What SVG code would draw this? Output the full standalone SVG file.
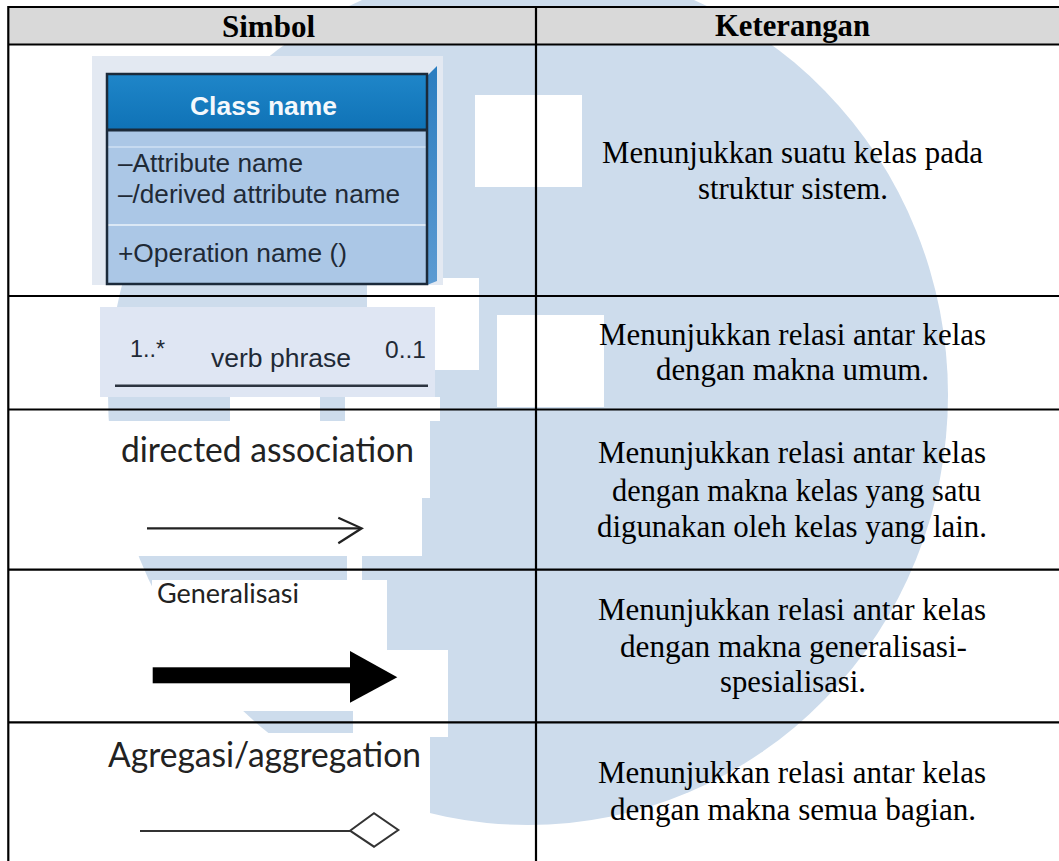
<svg xmlns="http://www.w3.org/2000/svg" width="1059" height="861" viewBox="0 0 1059 861">
<defs>
<style>
.grid{stroke:#000;stroke-width:2.2;fill:none}
.hd{font-family:"Liberation Serif","Times New Roman",serif;font-weight:bold;font-size:31px;fill:#000}
.bd{font-family:"Liberation Serif","Times New Roman",serif;font-size:31px;fill:#000}
.ar{font-family:"Liberation Sans",Arial,sans-serif;fill:#1f2a36}
.cal{font-family:Lato,"Open Sans",sans-serif;fill:#222}
.wm{fill:#cddcec}
.wh{fill:#fff}
</style>
<linearGradient id="hdg" x1="0" y1="0" x2="0" y2="1">
<stop offset="0" stop-color="#1f86c9"/>
<stop offset="1" stop-color="#0f72b6"/>
</linearGradient>
<linearGradient id="sideg" x1="0" y1="0" x2="0" y2="1">
<stop offset="0" stop-color="#2a7dc0"/>
<stop offset="1" stop-color="#5d9bd2"/>
</linearGradient>
</defs>
<rect width="1059" height="861" fill="#fff"/>
<g id="watermark">
<ellipse class="wm" cx="528" cy="395" rx="420" ry="430"/>
<rect class="wh" x="475" y="95" width="107" height="92"/>
<rect class="wh" x="367" y="278" width="112" height="92"/>
<rect class="wh" x="497" y="315" width="107" height="92"/>
<rect class="wh" x="230" y="397" width="90" height="24"/>
<rect class="wh" x="345" y="397" width="95" height="24"/>
<rect class="wh" x="347" y="556" width="15" height="24"/>
<rect class="wh" x="379" y="650" width="69" height="87"/>
<rect class="wh" x="353" y="711" width="30" height="26"/>
</g>
<g id="table">
<rect x="8" y="7" width="1051" height="37.5" fill="#d9d9d9"/>
<line class="grid" x1="8" y1="7" x2="1059" y2="7"/>
<line class="grid" x1="8" y1="44.5" x2="1059" y2="44.5"/>
<line class="grid" x1="8" y1="296" x2="1059" y2="296"/>
<line class="grid" x1="8" y1="409.5" x2="1059" y2="409.5"/>
<line class="grid" x1="8" y1="569.7" x2="1059" y2="569.7"/>
<line class="grid" x1="8" y1="722.3" x2="1059" y2="722.3"/>
<line class="grid" x1="8.3" y1="6" x2="8.3" y2="861"/>
<line class="grid" x1="536" y1="6" x2="536" y2="861"/>
<text class="hd" x="222" y="36.5" textLength="93" lengthAdjust="spacingAndGlyphs">Simbol</text>
<text class="hd" x="715" y="36" textLength="155" lengthAdjust="spacingAndGlyphs">Keterangan</text>
</g>
<g id="row1-class">
<rect x="92" y="56" width="351" height="229" fill="#e3e9f2"/>
<polygon points="427,76 437,66 437,281 427,285" fill="url(#sideg)"/>
<rect x="107" y="74" width="320" height="56" fill="url(#hdg)"/>
<rect x="107" y="130" width="320" height="154" fill="#abc7e6"/>
<line x1="108" y1="147" x2="426" y2="147" stroke="#c6daf0" stroke-width="2"/>
<line x1="108" y1="225" x2="426" y2="225" stroke="#dbe8f5" stroke-width="2"/>
<line x1="107" y1="130" x2="427" y2="130" stroke="#1b2a3a" stroke-width="3"/>
<rect x="107" y="74" width="320" height="210" fill="none" stroke="#1b2a3a" stroke-width="2.5"/>
<text class="ar" x="190" y="115" font-size="25" font-weight="bold" style="fill:#f4f8fc" textLength="147" lengthAdjust="spacingAndGlyphs">Class name</text>
<text class="ar" x="118" y="172" font-size="26" textLength="185" lengthAdjust="spacingAndGlyphs">–Attribute name</text>
<text class="ar" x="118" y="203" font-size="26" textLength="282" lengthAdjust="spacingAndGlyphs">–/derived attribute name</text>
<text class="ar" x="118" y="262" font-size="26" textLength="229" lengthAdjust="spacingAndGlyphs">+Operation name ()</text>
</g>
<g id="row1-text">
<text class="bd" x="602" y="163" textLength="381" lengthAdjust="spacingAndGlyphs">Menunjukkan suatu kelas pada</text>
<text class="bd" x="698" y="199" textLength="190" lengthAdjust="spacingAndGlyphs">struktur sistem.</text>
</g>
<g id="row2-assoc">
<rect x="100" y="307" width="335" height="90" fill="#dfe6f3"/>
<text class="ar" x="130" y="357" font-size="23" textLength="35" lengthAdjust="spacingAndGlyphs">1..*</text>
<text class="ar" x="211" y="367" font-size="26" textLength="140" lengthAdjust="spacingAndGlyphs">verb phrase</text>
<text class="ar" x="385" y="358" font-size="24" textLength="41" lengthAdjust="spacingAndGlyphs">0..1</text>
</g>
<g id="row2-text">
<text class="bd" x="599" y="345" textLength="387" lengthAdjust="spacingAndGlyphs">Menunjukkan relasi antar kelas</text>
<text class="bd" x="656" y="380" textLength="273" lengthAdjust="spacingAndGlyphs">dengan makna umum.</text>
</g>
<g id="row3-directed">
<path d="M107,421 H430 V498 H422 V556 H107 Z" fill="#fff"/>
<text class="cal" x="121" y="461.5" font-size="34" textLength="293" lengthAdjust="spacingAndGlyphs">directed association</text>
</g>
<g id="row3-text">
<text class="bd" x="598" y="463.3" textLength="388" lengthAdjust="spacingAndGlyphs">Menunjukkan relasi antar kelas</text>
<text class="bd" x="612" y="501" textLength="369" lengthAdjust="spacingAndGlyphs">dengan makna kelas yang satu</text>
<text class="bd" x="597" y="536.7" textLength="390" lengthAdjust="spacingAndGlyphs">digunakan oleh kelas yang lain.</text>
</g>
<g id="row4-general">
<rect x="152" y="580" width="235" height="131" fill="#fff"/>
<text class="cal" x="157" y="603.3" font-size="27" textLength="142" lengthAdjust="spacingAndGlyphs">Generalisasi</text>
</g>
<g id="row4-text">
<text class="bd" x="598" y="620" textLength="388" lengthAdjust="spacingAndGlyphs">Menunjukkan relasi antar kelas</text>
<text class="bd" x="620" y="656.7" textLength="347" lengthAdjust="spacingAndGlyphs">dengan makna generalisasi-</text>
<text class="bd" x="720" y="691.7" textLength="146" lengthAdjust="spacingAndGlyphs">spesialisasi.</text>
</g>
<g id="row5-aggr">
<rect x="106" y="733" width="324" height="128" fill="#fff"/>
<text class="cal" x="108" y="766.7" font-size="35" textLength="313" lengthAdjust="spacingAndGlyphs">Agregasi/aggregation</text>
</g>
<g id="row5-text">
<text class="bd" x="598" y="783.3" textLength="388" lengthAdjust="spacingAndGlyphs">Menunjukkan relasi antar kelas</text>
<text class="bd" x="610" y="820" textLength="366" lengthAdjust="spacingAndGlyphs">dengan makna semua bagian.</text>
</g>
<g id="connectors">
<line x1="115" y1="385.7" x2="428" y2="385.7" stroke="#2c3440" stroke-width="2.6"/>
<line x1="147" y1="528.3" x2="361" y2="528.3" stroke="#222" stroke-width="2.2"/>
<polyline points="338.3,517.7 361.7,528.3 338.3,543.3" fill="none" stroke="#222" stroke-width="2.2"/>
<rect x="152.7" y="667.3" width="198" height="16" fill="#000"/>
<polygon points="350,651 397.3,677.3 350,702.7" fill="#000"/>
<line x1="140" y1="831" x2="350" y2="831" stroke="#333" stroke-width="2"/>
<polygon points="350,830.7 374,813.3 398.3,830 374,846.7" fill="#fff" stroke="#333" stroke-width="2"/>
</g>
</svg>
